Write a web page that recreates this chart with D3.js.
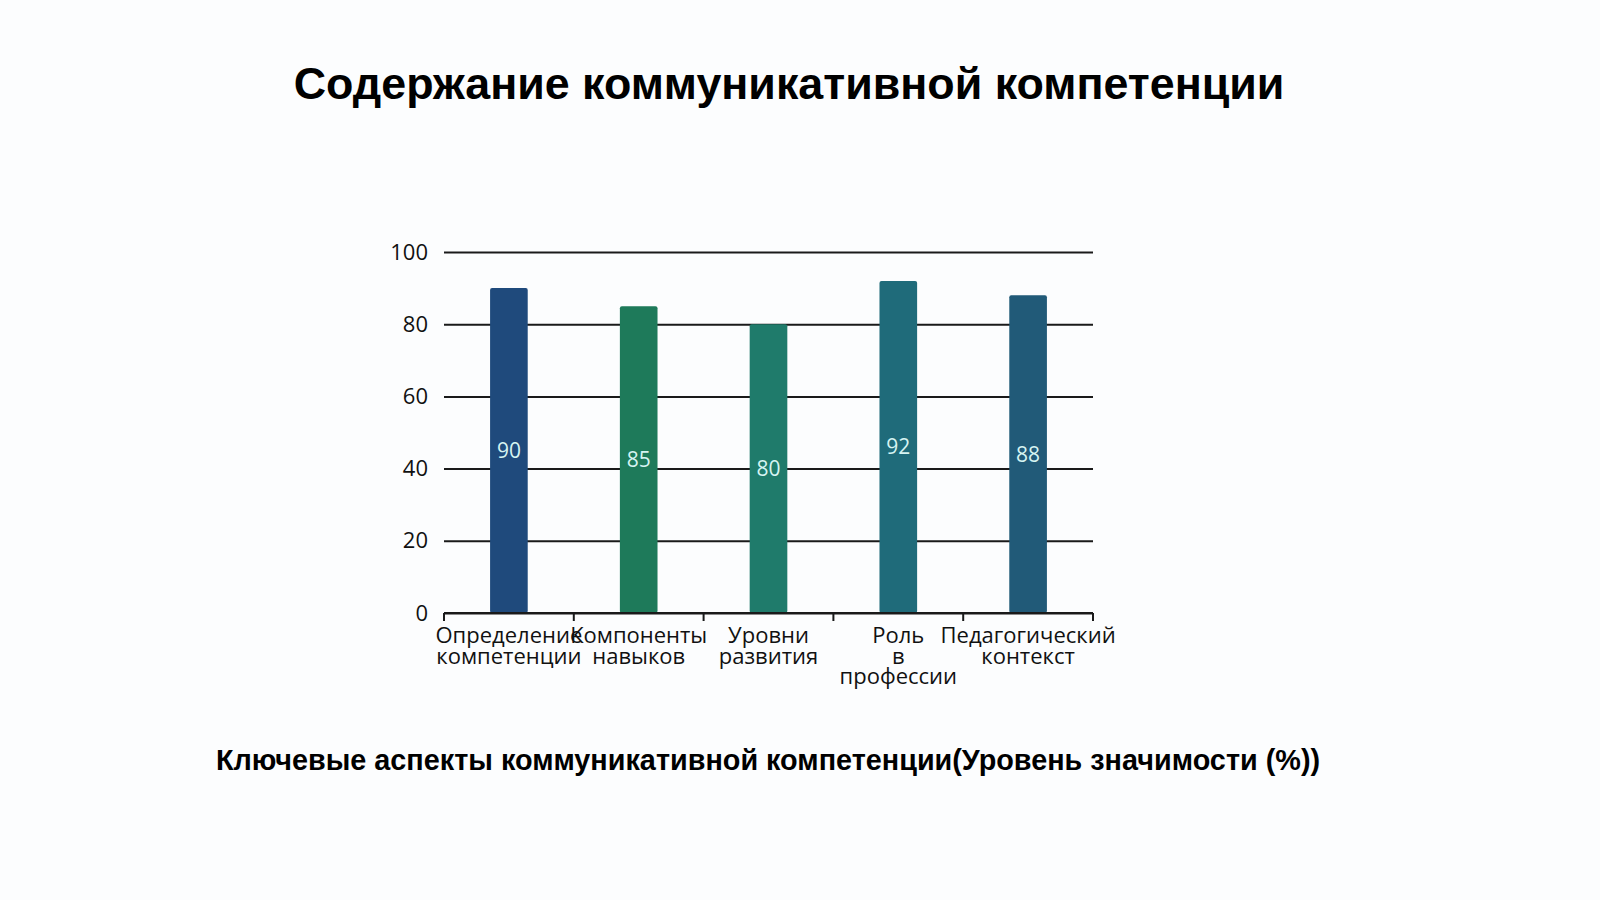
<!DOCTYPE html>
<html>
<head>
<meta charset="utf-8">
<script src="https://cdn.jsdelivr.net/npm/d3@7"></script>
<style>
    body { margin: 0; background: #fcfdfe; }
    svg { display: block; }
</style>
</head>
<body>
<svg id="chart" width="1600" height="900"></svg>
<script>
// chart data
var categories = ['Определение компетенции', 'Компоненты навыков', 'Уровни развития', 'Роль в профессии', 'Педагогический контекст'];
var values = [90, 85, 80, 92, 88];
var barColors = ['#1f4a7c', '#1e7a5a', '#1f7b6b', '#1f6b7a', '#215a78'];
var yTicks = [0, 20, 40, 60, 80, 100];
var titleText = 'Содержание коммуникативной компетенции';
var subtitleText = 'Ключевые аспекты коммуникативной компетенции(Уровень значимости (%))';

var svg = d3.select('#chart');
var plot = {left: 444, right: 1093, top: 252, bottom: 613};

svg.append('rect')
    .attr('width', 1600).attr('height', 900)
    .attr('fill', '#fcfdfe');

var x = d3.scaleBand()
    .domain(categories)
    .range([plot.left, plot.right])
    .paddingInner(0.71)
    .paddingOuter(0.355);

var y = d3.scaleLinear()
    .domain([0, 100])
    .range([plot.bottom, plot.top]);

// gridlines + y labels
var yAxis = svg.append('g')
    .attr('transform', 'translate(' + plot.left + ',0)')
    .call(d3.axisLeft(y).tickValues(yTicks).tickSize(-(plot.right - plot.left)).tickPadding(16));
yAxis.select('.domain').remove();
yAxis.selectAll('.tick line').attr('stroke', '#1a1a1a').attr('stroke-width', 2);
yAxis.selectAll('.tick text')
    .attr('font-family', '"Open Sans", sans-serif')
    .attr('font-size', 22)
    .attr('fill', '#111');

// bars
svg.append('g').selectAll('rect')
    .data(values)
    .join('rect')
    .attr('x', function(d, i) { return x(categories[i]); })
    .attr('y', function(d) { return y(d); })
    .attr('width', x.bandwidth())
    .attr('height', function(d) { return y(0) - y(d); })
    .attr('rx', 2)
    .attr('fill', function(d, i) { return barColors[i]; });

// value labels in the middle of the bars
svg.append('g').selectAll('text')
    .data(values)
    .join('text')
    .attr('x', function(d, i) { return x(categories[i]) + x.bandwidth() / 2; })
    .attr('y', function(d) { return (y(d) + y(0)) / 2; })
    .attr('dy', '0.35em')
    .attr('text-anchor', 'middle')
    .attr('font-family', '"Open Sans", sans-serif')
    .attr('font-size', 21)
    .attr('fill', '#d6f4f2')
    .text(function(d) { return d; });

// x axis, ticks on band edges
var step = x.step();
var edges = d3.range(categories.length + 1).map(function(i) { return plot.left + i * step; });
var xAxis = svg.append('g');
xAxis.append('line')
    .attr('x1', plot.left).attr('x2', plot.right)
    .attr('y1', plot.bottom).attr('y2', plot.bottom)
    .attr('stroke', '#1a1a1a').attr('stroke-width', 2);
xAxis.selectAll('.edge')
    .data(edges)
    .join('line')
    .attr('class', 'edge')
    .attr('x1', function(d) { return d; }).attr('x2', function(d) { return d; })
    .attr('y1', plot.bottom).attr('y2', plot.bottom + 8)
    .attr('stroke', '#1a1a1a').attr('stroke-width', 2);

var labels = xAxis.selectAll('.lbl')
    .data(categories)
    .join('text')
    .attr('class', 'lbl')
    .attr('text-anchor', 'middle')
    .attr('font-family', '"Open Sans", sans-serif')
    .attr('font-size', 22)
    .attr('fill', '#111')
    .attr('transform', function(d) { return 'translate(' + (x(d) + x.bandwidth() / 2) + ',643)'; });
labels.each(function(d) {
    var words = d.split(' ');
    var t = d3.select(this);
    words.forEach(function(w, i) {
        t.append('tspan').attr('x', 0).attr('y', i * 20.5).text(w);
    });
});

// titles
svg.append('text')
    .attr('x', 789).attr('y', 99)
    .attr('text-anchor', 'middle')
    .attr('font-family', '"Liberation Sans", Arial, sans-serif')
    .attr('font-weight', 'bold')
    .attr('font-size', 44.8)
    .attr('fill', '#000')
    .text(titleText);

svg.append('text')
    .attr('x', 768).attr('y', 770)
    .attr('text-anchor', 'middle')
    .attr('font-family', '"Liberation Sans", Arial, sans-serif')
    .attr('font-weight', 'bold')
    .attr('font-size', 28.8)
    .attr('fill', '#000')
    .text(subtitleText);
</script>
</body>
</html>
